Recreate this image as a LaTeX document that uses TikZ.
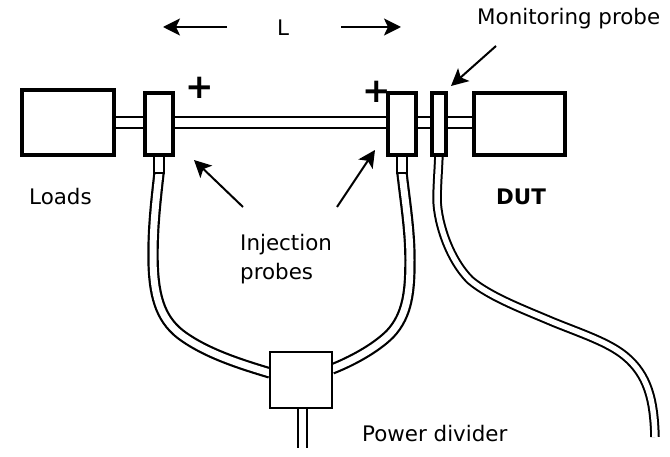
\documentclass[tikz,border=0pt]{standalone}
\usepackage{fontspec}
\setmainfont{DejaVu Sans}
\usetikzlibrary{arrows.meta}
\tikzset{
  unit/.style={draw,fill=white,line width=4pt,minimum width=#1,inner sep=0pt,outer sep=0pt,minimum height=62pt},
  tail/.style={draw,fill=white,line width=2.2pt,minimum width=10pt,minimum height=18pt,inner sep=0pt,outer sep=0pt},
  splitter/.style={draw,fill=white,line width=2.8pt,minimum width=62pt,minimum height=56pt,inner sep=0pt,outer sep=0pt},
  rail/.style={draw=black,line width=2.2pt,double=white,double distance=8.5pt},
  cable/.style={draw=black,line width=2.2pt,double=white,double distance=7pt},
  thincable/.style={draw=black,line width=2pt,double=white,double distance=5.5pt},
  ptr/.style={line width=2pt,-{Stealth[length=17pt,width=17pt,inset=4pt]}},
  lbl/.style={font=\fontsize{21.4pt}{29pt}\selectfont,inner sep=0pt,text=black},
  plus/.style={font=\fontsize{34pt}{34pt}\selectfont\bfseries,inner sep=0pt}
}
\begin{document}
\begin{tikzpicture}[x=1pt,y=-1pt]
\useasboundingbox (0,0) rectangle (670,457);
\coordinate (endM) at (655,437);
\coordinate (endP) at (302.5,448);
\coordinate (a1) at (163,27);
\coordinate (a1s) at (227,27);
\coordinate (a2) at (401,27);
\coordinate (a2s) at (341,27);
\coordinate (mS) at (496,46);
\coordinate (mE) at (451,86);
\coordinate (i1S) at (243,207);
\coordinate (i2S) at (337,207);
\coordinate (i1E) at (194,160);
\coordinate (i2E) at (375,150);
\coordinate (jL) at (270,373);
\coordinate (jR) at (332,369);
\node[plus] (pl1) at (200,88) {+};
\node[plus] (pl2) at (377,92) {+};
\path node[unit=92pt,minimum height=65pt] (load) at (67.5,122.5) {}
      node[unit=28pt] (inj1) at (159,124) {}
      node[unit=28pt] (inj2) at (402,124) {}
      node[unit=14pt] (mon) at (439,124) {}
      node[unit=91pt] (dut) at (519.5,124) {}
      node[splitter] (div) at (301,380) {}
      node[tail,anchor=north] (t1) at (inj1.south) {}
      node[tail,anchor=north] (t2) at (inj2.south) {};
\draw[rail] (load.east |- 0,122.5) -- (inj1.west |- 0,122.5);
\draw[rail] (inj1.east |- 0,122.5) -- (inj2.west |- 0,122.5);
\draw[rail] (inj2.east |- 0,122.5) -- (mon.west |- 0,122.5);
\draw[rail] (mon.east |- 0,122.5) -- (dut.west |- 0,122.5);
\draw[cable] (t1.south) .. controls (156,200) and (153,225) .. (153,255)
  .. controls (153,295) and (160,318) .. (180,334)
  .. controls (205,353) and (240,364) .. (jL);
\draw[cable] (t2.south) .. controls (405,200) and (410,230) .. (410,260)
  .. controls (410,290) and (408,315) .. (390,334)
  .. controls (375,349) and (350,362) .. (jR);
\draw[thincable] (mon.south) .. controls (438,175) and (437,190) .. (437,200)
  .. controls (438,225) and (450,260) .. (470,280)
  .. controls (490,297) and (525,310) .. (553,322)
  .. controls (580,333) and (608,342) .. (625,356)
  .. controls (648,375) and (654,400) .. (endM);
\draw[rail,double distance=6.5pt] (div.south -| endP) -- (endP);
\path node[unit=92pt,minimum height=65pt] at (load) {}
      node[tail] at (t1) {}
      node[tail] at (t2) {}
      node[unit=28pt] at (inj1) {}
      node[unit=28pt] at (inj2) {}
      node[unit=14pt] at (mon) {}
      node[unit=91pt] at (dut) {}
      node[splitter] at (div) {};
\draw[ptr] (a1s) -- (a1);
\draw[ptr] (a2s) -- (a2);
\draw[ptr] (mS) -- (mE);
\draw[ptr] (i1S) -- (i1E);
\draw[ptr] (i2S) -- (i2E);
\node[lbl] (tL) at (283,28) {L};
\node[lbl,anchor=west] (tM) at (477,19) {Monitoring probe};
\node[lbl,anchor=west] (tLo) at (29,197) {Loads};
\node[lbl,anchor=west,font=\fontsize{21.4pt}{29pt}\selectfont\bfseries] (tD) at (496,197) {DUT};
\node[lbl,anchor=base west,align=left] (tI) at (240,280) {Injection\\probes};
\node[lbl,anchor=west] (tP) at (362,434) {Power divider};
\end{tikzpicture}
\end{document}
